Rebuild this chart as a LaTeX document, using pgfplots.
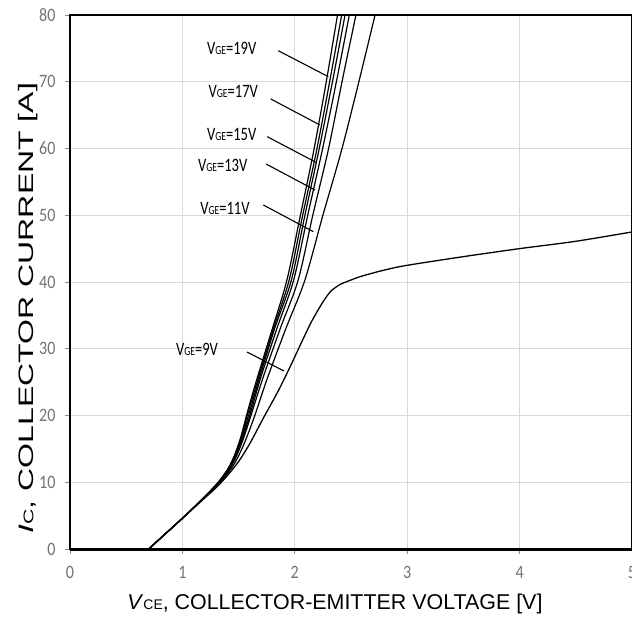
\documentclass[border=0pt]{standalone}
\usepackage{graphicx}
\usepackage{pgfplots}
\pgfplotsset{compat=1.18}
\usepackage{fontspec}
\setmainfont{Liberation Sans}
\newfontfamily\tickfont{Carlito}
\newcommand{\vge}[1]{{\tickfont\fontsize{19}{19}\selectfont\scalebox{0.77}[1]{V{\fontsize{12.5}{12.5}\selectfont GE}=#1V}}}
\begin{document}
\begin{tikzpicture}
\path[use as bounding box] (-70bp,-76bp) rectangle (562bp,549bp);
\begin{axis}[
  at={(0,0)}, anchor=south west, scale only axis,
  width=562bp, height=534bp,
  xmin=0, xmax=5, ymin=0, ymax=80,
  xtick={0,1,2,3,4,5}, ytick={0,10,20,30,40,50,60,70,80},
  grid=major, grid style={line width=0.8bp, black!15},
  axis line style={line width=1.6bp, black},
  tick align=outside, major tick length=5bp,
  major tick style={line width=0.8bp, black!45},
  xtick pos=left, ytick pos=left,
  ticklabel style={font=\tickfont\fontsize{19}{19}\selectfont, text=black!55},
  xticklabel={\scalebox{0.85}[1]{\pgfmathprintnumber{\tick}}},
  yticklabel={\scalebox{0.85}[1]{\pgfmathprintnumber{\tick}}},
  /pgf/number format/assume math mode=true,
  xticklabel style={yshift=-9bp},
  yticklabel style={xshift=-6bp},
  clip=false,
]
% VGE = 20V (unlabelled, leftmost)
\addplot[black, line width=1.2bp, smooth] coordinates {
 (0.7,0) (0.85,2.3) (1.0,4.6) (1.15,7.0) (1.3,9.6) (1.4,11.9) (1.46,13.9) (1.52,16.8) (1.58,20.6) (1.66,25.3) (1.8,33.0) (1.93,40.3) (2.05,50.0) (2.17,59.8) (2.28,70.0) (2.38,80)};
% VGE = 19V
\addplot[black, line width=1.2bp, smooth] coordinates {
 (0.7,0) (0.85,2.3) (1.0,4.6) (1.15,7.0) (1.3,9.6) (1.4,11.8) (1.46,13.7) (1.52,16.5) (1.58,20.2) (1.67,25.3) (1.81,33.0) (1.95,40.3) (2.07,50.0) (2.195,59.8) (2.31,70.0) (2.417,80)};
% VGE = 17V
\addplot[black, line width=1.2bp, smooth] coordinates {
 (0.7,0) (0.85,2.3) (1.0,4.6) (1.15,7.0) (1.3,9.6) (1.4,11.7) (1.46,13.6) (1.52,16.3) (1.59,20.1) (1.68,25.3) (1.82,33.0) (1.97,40.3) (2.09,50.0) (2.215,59.8) (2.335,70.0) (2.447,80)};
% VGE = 15V
\addplot[black, line width=1.2bp, smooth] coordinates {
 (0.7,0) (0.85,2.3) (1.0,4.6) (1.15,7.0) (1.3,9.6) (1.4,11.6) (1.46,13.5) (1.53,16.4) (1.60,20.0) (1.69,25.3) (1.84,33.0) (1.99,40.3) (2.115,50.0) (2.245,59.8) (2.37,70.0) (2.485,80)};
% VGE = 13V
\addplot[black, line width=1.2bp, smooth] coordinates {
 (0.7,0) (0.85,2.3) (1.0,4.6) (1.15,7.0) (1.3,9.5) (1.4,11.5) (1.47,13.5) (1.54,16.4) (1.61,20.0) (1.71,25.3) (1.87,33.0) (2.03,40.3) (2.16,50.0) (2.298,59.8) (2.42,70.0) (2.544,80)};
% VGE = 11V
\addplot[black, line width=1.2bp, smooth] coordinates {
 (0.7,0) (0.85,2.3) (1.0,4.6) (1.15,7.0) (1.3,9.4) (1.4,11.3) (1.47,13.0) (1.55,15.8) (1.64,19.8) (1.75,25.3) (1.92,33.0) (2.09,40.3) (2.25,50.0) (2.417,59.8) (2.57,70.0) (2.714,80)};
% VGE = 9V
\addplot[black, line width=1.3bp, smooth] coordinates {
 (0.7,0) (0.85,2.3) (1.0,4.6) (1.15,6.9) (1.3,9.2) (1.4,11.0) (1.5,13.1) (1.6,15.8) (1.72,19.6) (1.85,23.6) (1.95,27.0) (2.05,30.6) (2.15,34.1) (2.25,37.0) (2.32,38.6) (2.4,39.6) (2.5,40.3) (2.6,40.9) (2.8,41.8) (3.0,42.5) (3.5,43.8) (4.0,45.0) (4.5,46.1) (5.0,47.5)};
% bottom axis emphasised
\draw[line width=3bp] (axis cs:0,0) -- (axis cs:5,0);
% annotations
\draw[line width=1.1bp] (axis cs:1.853,74.65) -- (axis cs:2.298,70.76);
\draw[line width=1.1bp] (axis cs:1.786,67.42) -- (axis cs:2.224,63.52);
\draw[line width=1.1bp] (axis cs:1.755,61.77) -- (axis cs:2.195,57.87);
\draw[line width=1.1bp] (axis cs:1.744,57.68) -- (axis cs:2.180,53.78);
\draw[line width=1.1bp] (axis cs:1.720,51.54) -- (axis cs:2.165,47.54);
\draw[line width=1.1bp] (axis cs:1.575,29.51) -- (axis cs:1.904,26.67);
\node at (axis cs:1.439,75.01) {\vge{19}};
\node at (axis cs:1.453,68.51) {\vge{17}};
\node at (axis cs:1.439,62.17) {\vge{15}};
\node at (axis cs:1.359,57.53) {\vge{13}};
\node at (axis cs:1.379,51.04) {\vge{11}};
\node at (axis cs:1.130,29.96) {\vge{9}};
% axis titles
\node[font=\fontsize{21.5}{21.5}\selectfont] at ([yshift=-55bp]axis description cs:0.4715,0)
  {\textit{V}{\fontsize{14}{14}\selectfont CE}, COLLECTOR-EMITTER VOLTAGE [V]};
\node[font=\fontsize{21}{21}\selectfont, rotate=90] at ([xshift=-42bp]axis description cs:0,0.451)
  {\scalebox{1.53}[1]{\textit{I}{\fontsize{14}{14}\selectfont C}, COLLECTOR CURRENT [A]}};
\end{axis}
\end{tikzpicture}
\end{document}
